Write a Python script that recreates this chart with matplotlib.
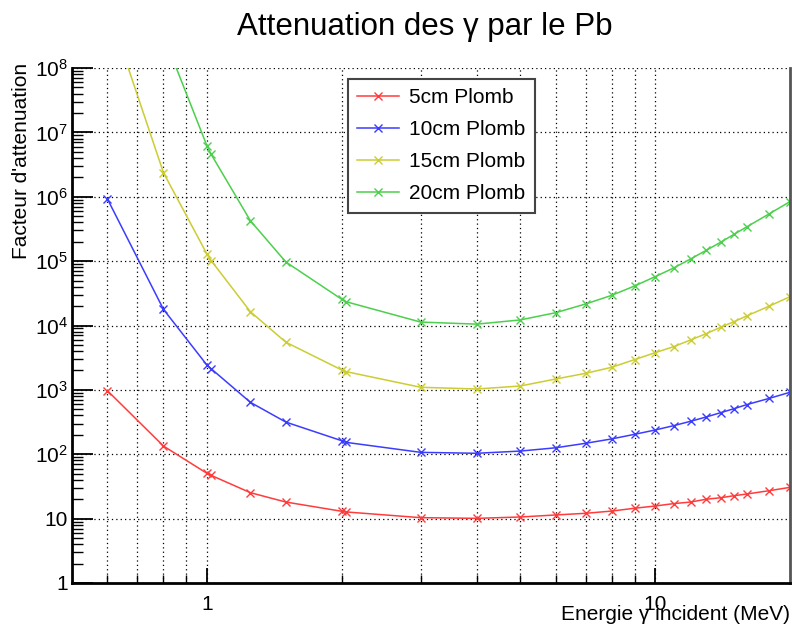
import numpy as np
import matplotlib
matplotlib.use("Agg")
import matplotlib.pyplot as plt
from matplotlib.ticker import FixedLocator, FixedFormatter, NullFormatter

plt.rcParams['font.family'] = ['Liberation Sans', 'DejaVu Sans']
plt.rcParams['mathtext.fontset'] = 'custom'
plt.rcParams['mathtext.rm'] = 'Liberation Sans'

# energies (MeV)
energie = [0.6, 0.8, 1.0, 1.022, 1.25, 1.5, 2.0, 2.044, 3.0, 4.0, 5.0, 6.0, 7.0,
           8.0, 9.0, 10.0, 11.0, 12.0, 13.0, 14.0, 15.0, 16.0, 18.0, 20.0]

# facteur d'attenuation
att_5cm = [970, 134, 50.6, 47, 25.3, 18.1, 13.0, 12.7, 10.35, 10.1, 10.6, 11.4, 12.1,
           13.1, 14.5, 15.7, 17.1, 18.1, 20.0, 21.1, 22.7, 24.1, 27.2, 30.6]
att_10cm = [9.2e5, 1.78e4, 2430, 2130, 641, 316, 162, 153, 107, 103.5, 112, 126, 148,
            173, 204, 238, 278, 325, 379, 442, 510, 589, 740, 917]
att_15cm = [9.1e8, 2.36e6, 1.29e5, 1.02e5, 1.64e4, 5500, 2035, 1920, 1097, 1032, 1148, 1475, 1808,
            2242, 2950, 3780, 4690, 5960, 7460, 9380, 11460, 14050, 20100, 28000]
att_20cm = [8.8e11, 3.2e8, 6.2e6, 4.56e6, 4.25e5, 9.7e4, 2.55e4, 2.34e4, 1.13e4, 1.05e4, 1.22e4, 1.58e4, 2.16e4,
            2.94e4, 4.11e4, 5.73e4, 7.82e4, 1.08e5, 1.47e5, 1.96e5, 2.61e5, 3.39e5, 5.46e5, 8.4e5]

series = [
    ("5cm Plomb", att_5cm, "#ff3c3c"),
    ("10cm Plomb", att_10cm, "#3c3cff"),
    ("15cm Plomb", att_15cm, "#cccc33"),
    ("20cm Plomb", att_20cm, "#4ccf4c"),
]

x_major = [1, 10]
x_major_labels = ["1", "10"]
x_minor = [0.6, 0.7, 0.8, 0.9, 2, 3, 4, 5, 6, 7, 8, 9]
y_major = [1, 10, 1e2, 1e3, 1e4, 1e5, 1e6, 1e7, 1e8]
y_major_labels = ["1", "10"] + [r"$\mathregular{10^{%d}}$" % k for k in range(2, 9)]

W, H = 792, 629
fig = plt.figure(figsize=(W / 100, H / 100), dpi=100)
ax = fig.add_axes([72 / W, 1 - 583 / H, (790 - 72) / W, (583 - 68) / H])

for label, vals, col in series:
    ax.plot(energie, vals, color=col, lw=1.1, marker='x', ms=6, mew=1.0, label=label)

ax.set_xscale('log')
ax.set_yscale('log')
ax.set_xlim(0.5, 20)
ax.set_ylim(1, 1e8)

ax.xaxis.set_major_locator(FixedLocator(x_major))
ax.xaxis.set_major_formatter(FixedFormatter(x_major_labels))
ax.xaxis.set_minor_locator(FixedLocator(x_minor))
ax.xaxis.set_minor_formatter(NullFormatter())

ax.yaxis.set_major_locator(FixedLocator(y_major))
ax.yaxis.set_major_formatter(FixedFormatter(y_major_labels))
y_minor = [m * 10 ** k for k in range(0, 8) for m in range(2, 10)]
ax.yaxis.set_minor_locator(FixedLocator(y_minor))
ax.yaxis.set_minor_formatter(NullFormatter())

ax.tick_params(axis='x', which='major', direction='in', length=11, width=1.3, labelsize=15, pad=9)
ax.tick_params(axis='x', which='minor', direction='in', length=6, width=1.0)
ax.tick_params(axis='y', which='major', direction='in', length=15, width=1.3, labelsize=15, pad=3)
ax.tick_params(axis='y', which='minor', direction='in', length=8, width=1.0)

grid_kw = dict(color='black', linestyle=(0, (1, 2.5)), linewidth=0.9)
ax.grid(True, which='both', axis='x', **grid_kw)
ax.grid(True, which='major', axis='y', **grid_kw)

ax.spines['left'].set_linewidth(2)
ax.spines['bottom'].set_linewidth(2)
ax.spines['top'].set_visible(False)
ax.spines['right'].set_color('#555555')
ax.spines['right'].set_linewidth(2)

fig.text(425 / W, 1 - 27 / H, "Attenuation des γ par le Pb", fontsize=22.5, ha='center', va='center')
fig.text(22 / W, 1 - 63 / H, "Facteur d'attenuation", fontsize=15, rotation=90, ha='center', va='top')
fig.text(790 / W, 1 - 615 / H, "Energie γ incident (MeV)", fontsize=15, ha='right', va='center')

leg = ax.legend(loc='upper left', bbox_to_anchor=(348 / W, 1 - 79 / H), bbox_transform=fig.transFigure,
                fontsize=15, frameon=True, fancybox=False, framealpha=1, edgecolor='#444444',
                handlelength=2.0, handletextpad=0.5, labelspacing=0.62, borderpad=0.45,
                borderaxespad=0)
leg.get_frame().set_linewidth(1.5)

fig.savefig("out.png", dpi=100)
